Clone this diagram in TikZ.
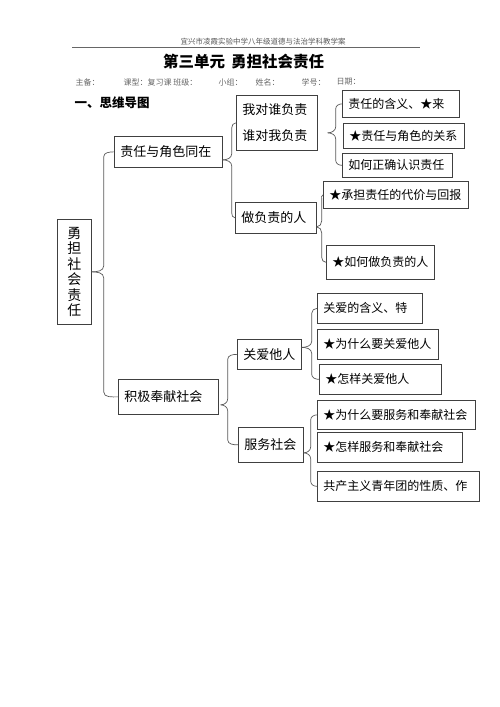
\documentclass[tikz,border=0pt]{standalone}
\usepackage{fontspec}
\newfontfamily\cjk{Noto Sans CJK SC}
\usetikzlibrary{calc}

\tikzset{
	box/.style={draw=black!75, line width=0.7pt, anchor=north west, inner xsep=6pt, inner ysep=0pt, align=left, text width=#1, font=\cjk\fontsize{12}{14}\selectfont},
	main/.style={box=#1, font=\cjk\fontsize{13}{15}\selectfont},
	link/.style={draw=black!65, line width=0.7pt},
	info/.style={anchor=west, text=black!60, font=\cjk\fontsize{8}{9}\selectfont},
}

% brace from a tip to the upper / lower child
\newcommand{\braceup}[3]{%
	\path (#1) ++(#3,0) coordinate (bt);
	\path (bt |- #2.west) coordinate (bc);
	\draw[link] (#1) to[out=0,in=-90] ($(bt)+(0,6)$) -- ($(bc)+(0,-5)$) to[out=90,in=180] (#2.west);
}
\newcommand{\bracedown}[3]{%
	\path (#1) ++(#3,0) coordinate (bt);
	\path (bt |- #2.west) coordinate (bc);
	\draw[link] (#1) to[out=0,in=90] ($(bt)+(0,-6)$) -- ($(bc)+(0,5)$) to[out=-90,in=180] (#2.west);
}

\begin{document}
\begin{tikzpicture}[x=1pt, y=1pt]
	\useasboundingbox (0,0) rectangle (500,-707);
	% page head
	\node[anchor=base, text=black!65, font=\cjk\fontsize{7.5}{9}\selectfont] (school) at (263,-44) {宜兴市凌霞实验中学八年级道德与法治学科教学案};
	\draw[black!60, line width=0.6pt] (72,-47) -- (420,-47);
	\node[anchor=west, inner sep=0pt, font=\cjk\bfseries\fontsize{15.5}{17}\selectfont] (title) at (163,-62) {第三单元\hspace{6pt}勇担社会责任};
	\foreach \x/\t in {72/主备：, 120/课型：复习课~班级：, 215/小组：, 252/姓名：, 298/学号：, 333/日期：}
		\node[info] at (\x,-82) {\t};
	\node[anchor=west, font=\cjk\bfseries\fontsize{12.5}{14}\selectfont] (head) at (71,-103) {一、思维导图};

	% mind map
	\node[main=22pt, align=center, minimum height=105pt, font=\cjk\fontsize{14}{15.5}\selectfont] (root) at (57,-219) {勇\\担\\社\\会\\责\\任};
	\node[main=96pt, minimum height=31pt] (zr) at (114,-136) {责任与角色同在};
	\node[main=88pt, minimum height=35pt] (jj) at (118,-379) {积极奉献社会};
	\node[main=69pt, minimum height=55pt, font=\cjk\fontsize{13}{26}\selectfont] (wd) at (236,-95) {我对谁负责\\谁对我负责};
	\node[main=69pt, minimum height=31pt] (zf) at (235,-202) {做负责的人};
	\node[main=52pt, minimum height=30pt] (ga) at (237,-339) {关爱他人};
	\node[main=53pt, minimum height=35pt] (fw) at (238,-427) {服务社会};

	\node[box=105pt, minimum height=27pt] (a1) at (342,-90) {责任的含义、★来};
	\node[box=109pt, minimum height=25pt] (a2) at (343,-123) {★责任与角色的关系};
	\node[box=98pt, minimum height=24pt] (a3) at (342,-153) {如何正确认识责任};
	\node[box=133pt, minimum height=27pt] (b1) at (323,-181) {★承担责任的代价与回报};
	\node[box=96pt, minimum height=34pt] (b2) at (326,-245) {★如何做负责的人};
	\node[box=93pt, minimum height=30pt] (c1) at (317,-293) {关爱的含义、特};
	\node[box=109pt, minimum height=30pt] (c2) at (317,-329) {★为什么要关爱他人};
	\node[box=110pt, minimum height=30pt] (c3) at (319,-364) {★怎样关爱他人};
	\node[box=146pt, minimum height=29pt] (d1) at (317,-400) {★为什么要服务和奉献社会};
	\node[box=133pt, minimum height=30pt] (d2) at (317,-432) {★怎样服务和奉献社会};
	\node[box=150pt, minimum height=30pt] (d3) at (317,-471) {共产主义青年团的性质、作};

	% brace tips
	\coordinate (t1) at (root.east);
	\coordinate (t2) at ([yshift=-8pt]zr.east);
	\coordinate (t3) at ([xshift=10pt,yshift=-10pt]wd.east);
	\coordinate (t4) at ([yshift=-9pt]zf.east);
	\coordinate (t5) at ([xshift=2pt,yshift=-8pt]jj.east);
	\coordinate (t6) at ([yshift=7pt]ga.east);
	\coordinate (t7) at ([yshift=-8pt]fw.east);

	\braceup{t1}{zr}{12} \bracedown{t1}{jj}{12}
	\braceup{t2}{wd}{9} \bracedown{t2}{zf}{9}
	\braceup{t3}{a1}{8} \bracedown{t3}{a3}{8}
	\braceup{t4}{b1}{5} \bracedown{t4}{b2}{5}
	\braceup{t5}{ga}{7} \bracedown{t5}{fw}{7}
	\braceup{t6}{c1}{10} \bracedown{t6}{c3}{10}
	\braceup{t7}{d1}{7} \bracedown{t7}{d3}{7}
\end{tikzpicture}
\end{document}
